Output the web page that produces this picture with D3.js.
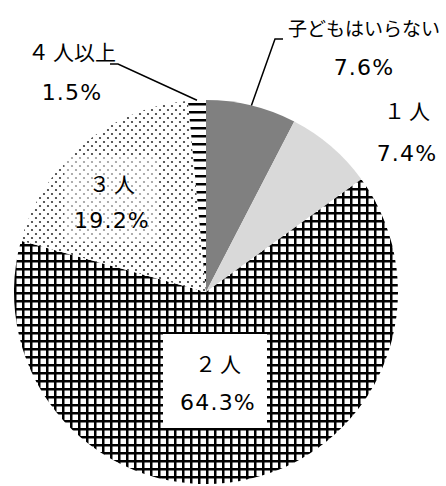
<!DOCTYPE html>
<html><head><meta charset="utf-8">
<script src="https://cdn.jsdelivr.net/npm/d3@7"></script>
<style>body{margin:0;background:#fff}svg{display:block}</style>
</head><body>
<svg id="c" width="446" height="486"></svg>
<script>
const categories = ["子どもはいらない", "１人", "２人", "３人", "４人以上"];
const values = [7.6, 7.4, 64.3, 19.2, 1.5];
const valueLabels = ["7.6%", "7.4%", "64.3%", "19.2%", "1.5%"];

const svg = d3.select("#c");
const cx = 206, cy = 292, R = 192;
const defs = svg.append("defs");

// grid pattern
const pg = defs.append("pattern").attr("id","grid").attr("patternUnits","userSpaceOnUse")
  .attr("width",8).attr("height",8);
pg.append("rect").attr("width",8).attr("height",8).attr("fill","#fff");
pg.append("rect").attr("x",0).attr("y",0).attr("width",8).attr("height",2.5).attr("fill","#000");
pg.append("rect").attr("x",0).attr("y",0).attr("width",2.5).attr("height",8).attr("fill","#000");

// dots pattern
const pd = defs.append("pattern").attr("id","dots").attr("patternUnits","userSpaceOnUse")
  .attr("width",8).attr("height",8);
pd.append("rect").attr("width",8).attr("height",8).attr("fill","#fff");
[[2,2],[6,6]].forEach(p=>pd.append("circle").attr("cx",p[0]).attr("cy",p[1]).attr("r",1.1).attr("fill","#333"));

// horizontal lines
const ph = defs.append("pattern").attr("id","hlines").attr("patternUnits","userSpaceOnUse")
  .attr("width",8).attr("height",8);
ph.append("rect").attr("width",8).attr("height",8).attr("fill","#fff");
ph.append("rect").attr("x",0).attr("y",3).attr("width",8).attr("height",2.5).attr("fill","#000");

const fills = ["#808080", "#d9d9d9", "url(#grid)", "url(#dots)", "url(#hlines)"];

const pie = d3.pie().sort(null).value(d=>d);
const arcs = pie(values);
const arc = d3.arc().innerRadius(0).outerRadius(R);
const g = svg.append("g").attr("transform",`translate(${cx},${cy})`);
g.selectAll("path").data(arcs).join("path").attr("d",arc).attr("fill",(d,i)=>fills[i]);

// label layout (label centres, two lines)
const labelPos = [
  {x:364, y1:27, y2:67, fs:19, gap:0},
  {x:407, y1:110, y2:153, fs:21, gap:4},
  {x:218, y1:363, y2:402, fs:21, gap:4},
  {x:112, y1:183, y2:220, fs:21, gap:4},
  {x:72, y1:51, y2:92, fs:21, gap:4}
];
// boxes behind labels
svg.append("rect").attr("x",163).attr("y",334).attr("width",104).attr("height",94).attr("fill","#fff");
svg.append("rect").attr("x",64).attr("y",156).attr("width",94).attr("height",86).attr("fill","#fff").attr("opacity",0.5);

// leader lines
const outer = d3.arc().innerRadius(R).outerRadius(R);
function anchor(i){const c = outer.centroid(arcs[i]); return [cx+c[0], cy+c[1]];}
const leaders = [
  {i:0, pts:[[275,39],[283,39]]},
  {i:4, pts:[[118,64],[110,64]]}
];
leaders.forEach(l=>{
  const a = anchor(l.i);
  svg.append("path").attr("d", d3.line()([a, ...l.pts])).attr("fill","none").attr("stroke","#000").attr("stroke-width",1.5);
});

categories.forEach((c,i)=>{
  const p = labelPos[i];
  const t = svg.append("text").attr("x",p.x).attr("y",p.y1).attr("text-anchor","middle").attr("dominant-baseline","central")
    .attr("font-family","'Noto Sans CJK JP', sans-serif").attr("font-size",p.fs).attr("fill","#000");
  if (p.gap) {
    t.append("tspan").text(c.slice(0,1));
    t.append("tspan").attr("dx",p.gap).text(c.slice(1));
  } else {
    t.text(c);
  }
  svg.append("text").attr("x",p.x).attr("y",p.y2).attr("text-anchor","middle").attr("dominant-baseline","central")
    .attr("font-family","'DejaVu Sans', Verdana, sans-serif").attr("font-size",22).attr("letter-spacing",1.2).attr("fill","#000").text(valueLabels[i]);
});
</script>
</body></html>
